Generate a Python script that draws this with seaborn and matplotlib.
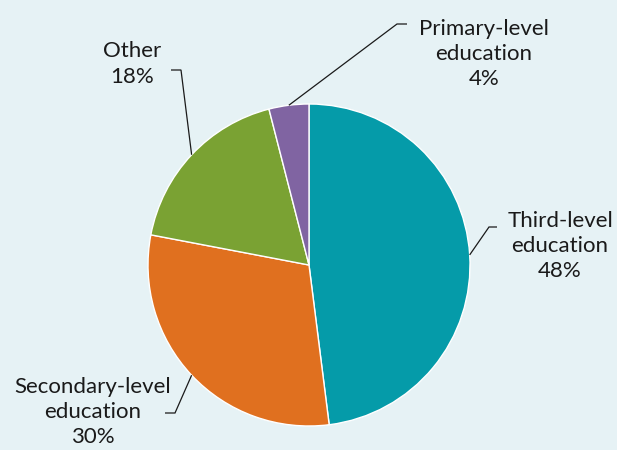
import matplotlib
matplotlib.use("Agg")
import matplotlib.pyplot as plt
import numpy as np
import seaborn as sns

# Share of respondents by highest level of education
categories = ["Third-level\neducation", "Secondary-level\neducation", "Other", "Primary-level\neducation"]
shares = [48, 30, 18, 4]
colors = ["#059ba9", "#e0701f", "#7aa233", "#8064a2"]

sns.set_theme(style="white")
plt.rcParams["font.family"] = ["Lato", "DejaVu Sans"]

bg = "#e6f2f5"
W, H = 617, 450
fig = plt.figure(figsize=(W / 100, H / 100), dpi=100, facecolor=bg)
ax = fig.add_axes([0, 0, 1, 1])
ax.set_facecolor(bg)

cx, cy, r = 309, 185, 161
wedges, _ = ax.pie(
    shares, colors=colors, startangle=90, counterclock=False,
    center=(cx, cy), radius=r, frame=True,
    wedgeprops=dict(edgecolor="white", linewidth=1.0),
)
ax.set_xlim(0, W)
ax.set_ylim(0, H)
ax.set_aspect("equal")
ax.axis("off")

# label text positions, elbow points and tail ends of the leader lines
label_xy = [(560, 204), (93, 38), (132, 386), (484, 396)]
elbows = [((489, 223), (497, 223)),
          ((175, 37), (165, 37)),
          ((181, 380), (171, 380)),
          ((397, 426), (407, 426))]

for w, cat, val, (tx, ty), (e1, e2) in zip(wedges, categories, shares, label_xy, elbows):
    mid = np.deg2rad((w.theta1 + w.theta2) / 2)
    px, py = cx + r * np.cos(mid), cy + r * np.sin(mid)
    ax.plot([px, e1[0], e2[0]], [py, e1[1], e2[1]], color="#1a1a1a", lw=0.9,
            solid_capstyle="butt", solid_joinstyle="miter")
    ax.text(tx, ty, f"{cat}\n{val}%", ha="center", va="center", fontsize=16,
            color="#1a1a1a", linespacing=1.33)

fig.savefig("out.png", dpi=100, facecolor=bg)
